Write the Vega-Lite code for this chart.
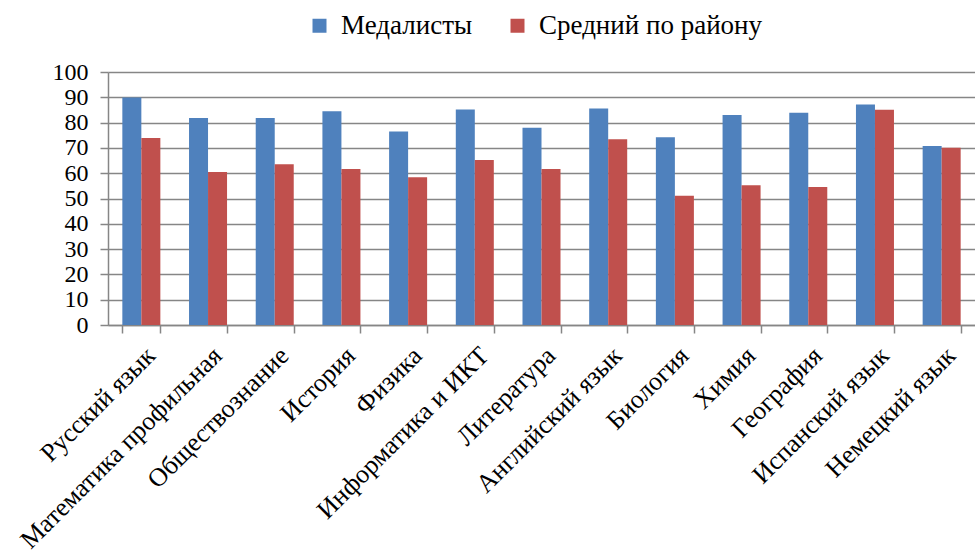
{
  "$schema": "https://vega.github.io/schema/vega-lite/v6.json",
  "width": 867,
  "height": 253,
  "autosize": {"type": "none"},
  "padding": {"left": 108, "top": 72, "right": 0, "bottom": 234},
  "config": {
    "view": {"stroke": null},
    "font": "Liberation Serif, Times New Roman, serif"
  },
  "data": {
    "values": [
      {"subject": "Русский язык", "series": "Медалисты", "value": 89.9},
      {"subject": "Русский язык", "series": "Средний по району", "value": 73.9},
      {"subject": "Математика профильная", "series": "Медалисты", "value": 81.8},
      {"subject": "Математика профильная", "series": "Средний по району", "value": 60.5},
      {"subject": "Обществознание", "series": "Медалисты", "value": 81.8},
      {"subject": "Обществознание", "series": "Средний по району", "value": 63.5},
      {"subject": "История", "series": "Медалисты", "value": 84.5},
      {"subject": "История", "series": "Средний по району", "value": 61.7},
      {"subject": "Физика", "series": "Медалисты", "value": 76.5},
      {"subject": "Физика", "series": "Средний по району", "value": 58.4},
      {"subject": "Информатика  и ИКТ", "series": "Медалисты", "value": 85.2},
      {"subject": "Информатика  и ИКТ", "series": "Средний по району", "value": 65.2},
      {"subject": "Литература", "series": "Медалисты", "value": 78.0},
      {"subject": "Литература", "series": "Средний по району", "value": 61.7},
      {"subject": "Английский язык", "series": "Медалисты", "value": 85.6},
      {"subject": "Английский язык", "series": "Средний по району", "value": 73.4},
      {"subject": "Биология", "series": "Медалисты", "value": 74.2},
      {"subject": "Биология", "series": "Средний по району", "value": 51.1},
      {"subject": "Химия", "series": "Медалисты", "value": 83.0},
      {"subject": "Химия", "series": "Средний по району", "value": 55.2},
      {"subject": "География", "series": "Медалисты", "value": 83.9},
      {"subject": "География", "series": "Средний по району", "value": 54.5},
      {"subject": "Испанский язык", "series": "Медалисты", "value": 87.2},
      {"subject": "Испанский язык", "series": "Средний по району", "value": 85.1},
      {"subject": "Немецкий язык", "series": "Медалисты", "value": 70.8},
      {"subject": "Немецкий язык", "series": "Средний по району", "value": 70.1}
    ]
  },
  "mark": {"type": "bar"},
  "encoding": {
    "x": {
      "field": "subject",
      "type": "nominal",
      "sort": null,
      "scale": {"paddingInner": 0.43, "paddingOuter": 0.215},
      "axis": {
        "title": null,
        "labelAngle": -45,
        "labelColor": "#000000",
        "labelFontSize": 26,
        "labelLimit": 0,
        "tickBand": "extent",
        "tickSize": 8,
        "tickColor": "#868686",
        "domainColor": "#868686",
        "tickWidth": 1.5,
        "domainWidth": 1.5,
        "labelPadding": 9
      }
    },
    "y": {
      "field": "value",
      "type": "quantitative",
      "scale": {"domain": [0, 100], "nice": false},
      "axis": {
        "title": null,
        "values": [0, 10, 20, 30, 40, 50, 60, 70, 80, 90, 100],
        "labelOverlap": false,
        "labelColor": "#000000",
        "labelFontSize": 24,
        "tickSize": 8,
        "tickColor": "#868686",
        "domainColor": "#868686",
        "gridColor": "#868686",
        "gridOpacity": 1,
        "gridWidth": 1.5,
        "tickWidth": 1.5,
        "domainWidth": 1.5,
        "labelPadding": 12
      }
    },
    "xOffset": {
      "field": "series",
      "type": "nominal",
      "sort": ["Медалисты", "Средний по району"],
      "scale": {"paddingInner": 0, "paddingOuter": 0}
    },
    "color": {
      "field": "series",
      "type": "nominal",
      "scale": {"domain": ["Медалисты", "Средний по району"], "range": ["#4F81BD", "#C0504D"]},
      "legend": {
        "title": null,
        "orient": "none",
        "legendX": 198,
        "legendY": -60,
        "direction": "horizontal",
        "labelColor": "#000000",
        "labelFontSize": 27,
        "labelLimit": 0,
        "symbolType": "square",
        "symbolSize": 196,
        "symbolStrokeWidth": 0,
        "columnPadding": 31,
        "labelOffset": 8
      }
    }
  }
}
